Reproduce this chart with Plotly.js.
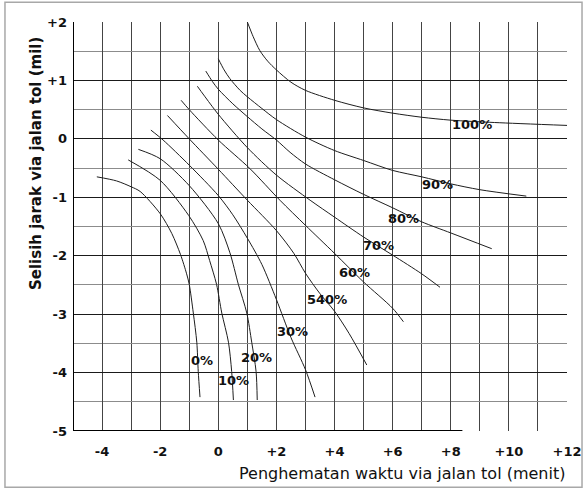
<!DOCTYPE html>
<html>
<head>
<meta charset="utf-8">
<script src="https://cdn.plot.ly/plotly-3.0.1.min.js"></script>
<style>html,body{margin:0;padding:0;background:#fff;}#chart{width:584px;height:489px;}</style>
</head>
<body>
<div id="chart"></div>
<script>
// Tick labels
const xTickVals = [-4, -2, 0, 2, 4, 6, 8, 10, 12];
const xTickText = ['-4', '-2', '0', '+2', '+4', '+6', '+8', '+10', '+12'];
const yTickVals = [2, 1, 0, -1, -2, -3, -4, -5];
const yTickText = ['+2', '+1', '0', '-1', '-2', '-3', '-4', '-5'];

// Curve series (time saving in minutes, distance difference in miles)
const c0x = [-4.18, -3.5, -3.0, -2.69, -2.0, -1.6, -1.3, -1.09, -1.0, -0.86, -0.74, -0.69, -0.63];
const c0y = [-0.65, -0.72, -0.82, -0.90, -1.28, -1.62, -1.98, -2.31, -2.49, -2.98, -3.48, -3.98, -4.42];
const c10x = [-3.10, -2.0, -1.02, -0.52, -0.3, -0.06, 0.12, 0.35, 0.46, 0.52];
const c10y = [-0.36, -0.71, -1.31, -1.74, -2.08, -2.49, -2.98, -3.48, -3.98, -4.47];
const c20x = [-2.75, -2.0, -1.0, 0.0, 0.4, 0.69, 0.98, 1.15, 1.3, 1.34];
const c20y = [-0.18, -0.34, -0.80, -1.45, -1.95, -2.49, -2.98, -3.48, -3.98, -4.47];
const c30x = [-2.32, -1.9, -1.0, 0.0, 0.5, 1.0, 1.5, 2.0, 2.5, 3.0, 3.33];
const c30y = [0.15, -0.02, -0.45, -0.97, -1.3, -1.7, -2.15, -2.75, -3.4, -3.95, -4.42];
const c50x = [-1.75, -1.0, 0.0, 1.0, 2.0, 2.6, 3.0, 3.5, 4.0, 4.5, 5.11];
const c50y = [0.40, 0.0, -0.52, -1.05, -1.57, -1.96, -2.3, -2.65, -2.95, -3.33, -3.87];
const c60x = [-1.28, -1.0, 0.0, 1.09, 2.12, 3.0, 4.0, 5.0, 6.0, 6.37];
const c60y = [0.66, 0.5, -0.02, -0.51, -1.05, -1.48, -1.96, -2.45, -2.9, -3.13];
const c70x = [-0.72, -0.5, 0.0, 1.0, 2.0, 3.16, 4.0, 5.0, 6.0, 7.0, 7.63];
const c70y = [0.90, 0.75, 0.42, -0.15, -0.62, -1.05, -1.34, -1.68, -1.99, -2.31, -2.54];
const c80x = [-0.43, -0.2, 0.0, 0.5, 1.0, 1.5, 2.0, 2.47, 3.0, 4.0, 5.0, 6.0, 7.0, 8.0, 9.41];
const c80y = [1.16, 0.98, 0.85, 0.6, 0.38, 0.17, -0.02, -0.23, -0.43, -0.70, -0.95, -1.18, -1.42, -1.61, -1.88];
const c90x = [0.0, 0.2, 0.4, 0.75, 1.0, 1.5, 2.0, 3.0, 4.0, 5.0, 6.0, 7.0, 8.0, 9.0, 10.6];
const c90y = [1.37, 1.18, 1.03, 0.83, 0.72, 0.52, 0.33, 0.03, -0.20, -0.37, -0.54, -0.65, -0.77, -0.87, -0.98];
const c100x = [1.0, 1.2, 1.43, 1.7, 2.0, 2.5, 3.0, 4.0, 5.0, 6.0, 7.0, 8.0, 9.5, 12.0];
const c100y = [2.0, 1.75, 1.51, 1.33, 1.18, 0.97, 0.83, 0.66, 0.53, 0.44, 0.37, 0.32, 0.28, 0.23];

// Curve labels
const labelText = ['0%', '10%', '20%', '30%', '540%', '60%', '70%', '80%', '90%', '100%'];
const labelX = [-0.56, 0.51, 1.30, 2.55, 3.73, 4.67, 5.51, 6.39, 7.56, 8.72];
const labelY = [-3.79, -4.13, -3.75, -3.30, -2.75, -2.28, -1.82, -1.37, -0.78, 0.25];

const seriesX = [c0x, c10x, c20x, c30x, c50x, c60x, c70x, c80x, c90x, c100x];
const seriesY = [c0y, c10y, c20y, c30y, c50y, c60y, c70y, c80y, c90y, c100y];

const traces = seriesX.map((xs, i) => ({
  type: 'scatter', mode: 'lines', x: xs, y: seriesY[i],
  line: {color: '#1e1e1e', width: 1, shape: 'spline', smoothing: 0.8},
  hoverinfo: 'skip', showlegend: false
}));

const annotations = labelText.map((t, i) => ({
  x: labelX[i], y: labelY[i], xref: 'x', yref: 'y', text: t, showarrow: false,
  font: {family: 'DejaVu Sans', size: 13, color: '#111', weight: 'bold'},
  xanchor: 'center', yanchor: 'middle'
}));
annotations.push({
  xref: 'paper', yref: 'paper', x: 1.0, y: -0.104, xanchor: 'right', yanchor: 'middle',
  text: 'Penghematan waktu via jalan tol (menit)', showarrow: false,
  font: {family: 'DejaVu Sans', size: 16, color: '#111'}
});
annotations.push({
  xref: 'paper', yref: 'paper', x: -0.075, y: 0.655, xanchor: 'center', yanchor: 'middle',
  text: 'Selisih jarak via jalan tol (mil)', showarrow: false, textangle: -90,
  font: {family: 'DejaVu Sans', size: 15, color: '#111', weight: 'bold'}
});

const layout = {
  width: 584, height: 489,
  margin: {l: 73, r: 17, t: 22, b: 58, pad: 0},
  paper_bgcolor: '#fff', plot_bgcolor: '#fff',
  font: {family: 'DejaVu Sans', color: '#111'},
  showlegend: false,
  xaxis: {
    range: [-5, 12], tickmode: 'array', tickvals: xTickVals, ticktext: xTickText,
    showgrid: true, gridcolor: '#444', gridwidth: 1, zeroline: false, showline: false,
    ticks: '', ticklabelstandoff: 11,
    tickfont: {family: 'DejaVu Sans', size: 13, color: '#111', weight: 'bold'},
    minor: {tickmode: 'linear', tick0: 0, dtick: 1, showgrid: true, gridcolor: '#444', gridwidth: 1},
    fixedrange: true
  },
  yaxis: {
    range: [-5, 2], tickmode: 'array', tickvals: yTickVals, ticktext: yTickText,
    showgrid: true, gridcolor: '#1a1a1a', gridwidth: 1, zeroline: false, showline: false,
    ticks: '', ticklabelstandoff: 5,
    tickfont: {family: 'DejaVu Sans', size: 13, color: '#111', weight: 'bold'},
    minor: {tickmode: 'linear', tick0: 0, dtick: 0.5, showgrid: true, gridcolor: '#8c8c8c', gridwidth: 1},
    fixedrange: true
  },
  shapes: [
    {type: 'rect', xref: 'paper', yref: 'paper', x0: -0.1377, x1: 1.0304, y0: -0.1377, y1: 1.0482,
     line: {color: '#a8a8a8', width: 1.5}, layer: 'below'},
    {type: 'line', xref: 'x', yref: 'y', x0: -5, x1: -5, y0: -5, y1: 2, line: {color: '#000', width: 2}, layer: 'above'},
    {type: 'line', xref: 'x', yref: 'y', x0: -5, x1: 8.4, y0: -5, y1: -5, line: {color: '#000', width: 2}, layer: 'above'}
  ],
  annotations: annotations
};

Plotly.newPlot('chart', traces, layout, {displayModeBar: false, staticPlot: true});
</script>
</body>
</html>
